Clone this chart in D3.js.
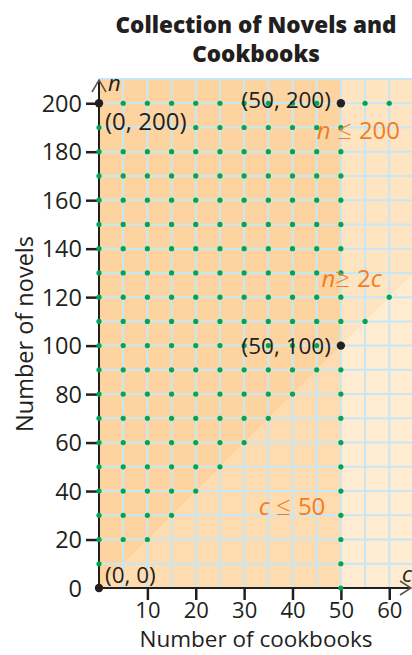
<!DOCTYPE html>
<html lang="en">
<head>
<meta charset="utf-8">
<title>Collection of Novels and Cookbooks</title>
<script src="https://d3js.org/d3.v7.min.js"></script>
<style>
  body { margin: 0; background: #fff; }
  text { font-family: "Open Sans", "Noto Sans", sans-serif; }
</style>
</head>
<body>
<svg id="chart" width="412" height="655"></svg>
<script>
// data
let titleLines = ["Collection of Novels and", "Cookbooks"];
let cGrid = d3.range(0, 70, 5);        // cookbook grid values
let nGrid = d3.range(0, 220, 10);      // novel grid values
let xTicks = [10, 20, 30, 40, 50, 60];
let yTicks = [0, 20, 40, 60, 80, 100, 120, 140, 160, 180, 200];
let cMax = 50, nMax = 200, ratio = 2;  // c <= 50, n <= 200, n >= 2c
let cPointMax = 60;
let vertices = [
  {c: 0, n: 200, label: "(0, 200)", side: "right", dy: 27},
  {c: 50, n: 200, label: "(50, 200)", side: "left", dy: 5},
  {c: 50, n: 100, label: "(50, 100)", side: "left", dy: 8},
  {c: 0, n: 0, label: "(0, 0)", side: "right", dy: -5}
];
let hiddenPts = [[5, 190], [10, 190], [15, 190], [5, 10]]; // under vertex labels
let constraintLabels = [
  {c: 45, n: 186, parts: [["n", true], [" \u2264 ", false, true], ["200", false]]},
  {c: 46, n: 125, parts: [["n", true], ["\u2265 ", false, true], ["2", false], ["c", true]]},
  {c: 33, n: 31, parts: [["c", true], [" \u2264 ", false, true], ["50", false]]}
];

let svg = d3.select("#chart");
let x = d3.scaleLinear().domain([0, 64.7]).range([99, 412]);
let y = d3.scaleLinear().domain([0, 210]).range([588, 79]);
let cEnd = x.domain()[1], nEnd = y.domain()[1];
let ink = "#231f20";

// title
svg.append("g").selectAll("text").data(titleLines).join("text")
  .attr("x", 256).attr("y", (d, i) => 33 + i * 29)
  .attr("text-anchor", "middle")
  .style("font-size", "22.5px").style("font-weight", "800").style("fill", ink)
  .text(d => d);

// shaded regions
let line = d3.line().x(d => x(d[0])).y(d => y(d[1]));
let regions = [
  {fill: "#ffecd1", pts: [[0, 0], [cEnd, 0], [cEnd, nEnd], [0, nEnd]]},
  {fill: "#fedcb0", pts: [[0, 0], [cMax, 0], [cMax, nEnd], [0, nEnd]]},
  {fill: "#fee4c1", pts: [[0, 0], [cEnd, cEnd * ratio], [cEnd, nEnd], [0, nEnd]]},
  {fill: "#fdd49f", pts: [[0, 0], [cMax, cMax * ratio], [cMax, nEnd], [0, nEnd]]}
];
svg.append("g").selectAll("path").data(regions).join("path")
  .attr("d", d => line(d.pts) + "Z")
  .attr("fill", d => d.fill);

// grid
let grid = svg.append("g").attr("stroke", "#c6e7f6").attr("stroke-width", 2);
grid.selectAll(".v").data(cGrid.filter(d => d > 0)).join("line")
  .attr("x1", d => x(d)).attr("x2", d => x(d)).attr("y1", y(0)).attr("y2", y(nEnd));
grid.selectAll(".h").data(nGrid.filter(d => d > 0).concat([210])).join("line")
  .attr("y1", d => y(d)).attr("y2", d => y(d)).attr("x1", x(0)).attr("x2", x(cEnd));

// axes
let axes = svg.append("g").attr("stroke", ink).attr("fill", "none");
axes.append("line").attr("x1", x(0)).attr("x2", x(0)).attr("y1", y(0)).attr("y2", 80).attr("stroke-width", 2);
axes.append("line").attr("x1", x(0)).attr("x2", 411).attr("y1", y(0)).attr("y2", y(0)).attr("stroke-width", 2);
axes.append("path").attr("d", "M92,92L99,80L106,92").attr("stroke", "#555").attr("stroke-width", 1.5);
axes.append("path").attr("d", "M400,581L411,588L400,595").attr("stroke", "#555").attr("stroke-width", 1.5);

let yAxis = svg.append("g").attr("transform", "translate(" + x(0) + ",0)")
  .call(d3.axisLeft(y).tickValues(yTicks).tickSize(13).tickPadding(4));
yAxis.select(".domain").remove();
yAxis.selectAll(".tick line").attr("stroke", ink).attr("stroke-width", 2.5)
  .attr("display", d => d === 0 ? "none" : null);
yAxis.selectAll(".tick text").style("font-size", "23.5px").attr("fill", ink)
  .attr("x", -17).attr("dy", "0.35em");

let xAxis = svg.append("g").attr("transform", "translate(0," + y(0) + ")")
  .call(d3.axisBottom(x).tickValues(xTicks).tickSize(12).tickPadding(2));
xAxis.select(".domain").remove();
xAxis.selectAll(".tick line").attr("stroke", ink).attr("stroke-width", 2.5);
xAxis.selectAll(".tick text").style("font-size", "22px").attr("fill", ink);

// axis variable names
svg.append("text").attr("x", 108).attr("y", 91).style("font-size", "22px")
  .style("font-style", "italic").attr("fill", ink).text("n");
svg.append("text").attr("x", 402).attr("y", 582).style("font-size", "22px")
  .style("font-style", "italic").attr("fill", ink).text("c");

// axis titles
svg.append("text").attr("x", 256).attr("y", 647).attr("text-anchor", "middle")
  .style("font-size", "22.5px").attr("fill", ink).text("Number of cookbooks");
svg.append("text").attr("transform", "translate(33,334) rotate(-90)").attr("text-anchor", "middle")
  .style("font-size", "23.5px").attr("fill", ink).text("Number of novels");

// lattice points: feasible region plus the boundary lines
let isVertex = (c, n) => vertices.some(v => v.c === c && v.n === n);
let isHidden = (c, n) => hiddenPts.some(p => p[0] === c && p[1] === n);
let pts = [];
cGrid.filter(c => c <= cPointMax).forEach(c => nGrid.forEach(n => {
  let feasible = c <= cMax && n <= nMax && n >= ratio * c;
  let onBoundary = (c === cMax && n <= nMax) || (n === nMax) || (n === ratio * c);
  if ((feasible || onBoundary) && !isVertex(c, n) && !isHidden(c, n)) pts.push([c, n]);
}));
svg.append("g").selectAll("circle").data(pts).join("circle")
  .attr("cx", d => x(d[0])).attr("cy", d => y(d[1])).attr("r", 2.6).attr("fill", "#00a651");

// vertices
svg.append("g").selectAll("circle").data(vertices).join("circle")
  .attr("cx", d => x(d.c)).attr("cy", d => y(d.n)).attr("r", 4.2).attr("fill", ink);
svg.append("g").selectAll("text").data(vertices).join("text")
  .attr("x", d => x(d.c) + (d.side === "right" ? 6 : -10))
  .attr("y", d => y(d.n) + d.dy)
  .attr("text-anchor", d => d.side === "right" ? "start" : "end")
  .style("font-size", d => d.n === 200 && d.c === 0 ? "24px" : "22.5px").attr("fill", ink)
  .text(d => d.label);

// constraint labels
svg.append("g").selectAll("text").data(constraintLabels).join("text")
  .attr("x", d => x(d.c)).attr("y", d => y(d.n) + 2)
  .style("font-size", "24px").attr("fill", "#f47d20")
  .each(function(d) {
    d3.select(this).selectAll("tspan").data(d.parts).join("tspan")
      .style("font-style", p => p[1] ? "italic" : "normal")
      .style("font-size", p => p[2] ? "26px" : null)
      .style("font-weight", p => p[2] ? "300" : null)
      .text(p => p[0]);
  });
</script>
</body>
</html>
